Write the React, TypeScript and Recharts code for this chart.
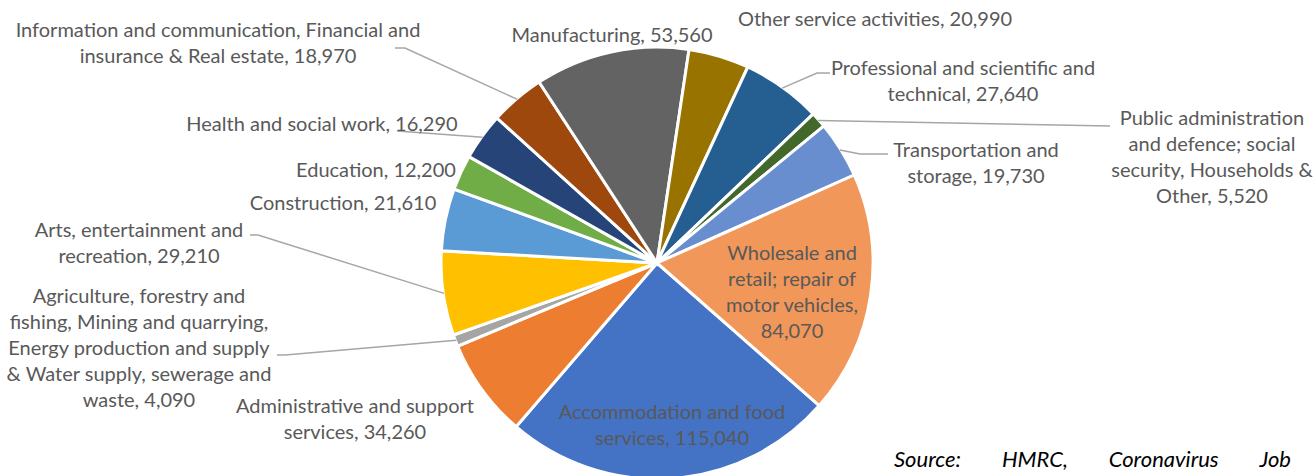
import { PieChart, Pie, Cell } from "recharts";

const categories = [
  "Accommodation and food services",
  "Administrative and support services",
  "Agriculture, forestry and fishing, Mining and quarrying, Energy production and supply & Water supply, sewerage and waste",
  "Arts, entertainment and recreation",
  "Construction",
  "Education",
  "Health and social work",
  "Information and communication, Financial and insurance & Real estate",
  "Manufacturing",
  "Other service activities",
  "Professional and scientific and technical",
  "Public administration and defence; social security, Households & Other",
  "Transportation and storage",
  "Wholesale and retail; repair of motor vehicles",
];

const jobs = [115040, 34260, 4090, 29210, 21610, 12200, 16290, 18970, 53560, 20990, 27640, 5520, 19730, 84070];

const colors = [
  "#4472C4", "#ED7D31", "#A5A5A5", "#FFC000", "#5B9BD5", "#70AD47", "#264478",
  "#9E480E", "#636363", "#997300", "#255E91", "#43682B", "#698ED0", "#F1975A",
];

const sourceWords = ["Source:", "HMRC,", "Coronavirus", "Job"];

// label placement: centre x, first baseline, words per line, leader points from the label side
type Place = { x: number; y: number; words: number[]; leader?: number[][] };
const places: Place[] = [
  { x: 672, y: 419, words: [3, 2] },
  { x: 355, y: 413, words: [3, 2] },
  { x: 139, y: 303, words: [3, 4, 4, 5, 2], leader: [[277, 355], [285, 355]] },
  { x: 139, y: 237, words: [3, 2], leader: [[250, 235], [258, 235]] },
  { x: 343, y: 210, words: [2] },
  { x: 376, y: 177, words: [2] },
  { x: 322, y: 131, words: [5], leader: [[397, 131]] },
  { x: 218, y: 37, words: [5, 5], leader: [[395, 48], [405, 48]] },
  { x: 612, y: 42, words: [2] },
  { x: 875, y: 26, words: [4] },
  { x: 963, y: 75, words: [4, 2], leader: [[830, 73], [817, 73]] },
  { x: 1212, y: 125, words: [2, 3, 3, 2], leader: [[1110, 126]] },
  { x: 976, y: 157, words: [2, 2], leader: [[888, 154], [860, 154]] },
  { x: 792, y: 260, words: [2, 3, 2, 1] },
];

const data = categories.map((name, i) => ({ name, value: jobs[i] }));

const RAD = Math.PI / 180;
const LINE_H = 26;

function renderLabel(props: any) {
  const { cx, cy, midAngle, outerRadius, index, value } = props;
  const p = places[index];
  const words = `${categories[index]}, ${Number(value).toLocaleString("en-GB")}`.split(" ");
  const lines: string[] = [];
  let k = 0;
  for (const n of p.words) {
    lines.push(words.slice(k, k + n).join(" "));
    k += n;
  }
  let leader = null;
  if (p.leader) {
    const ax = cx + (outerRadius - 1) * Math.cos(-midAngle * RAD);
    const ay = cy + (outerRadius - 1) * Math.sin(-midAngle * RAD);
    const pts = [...p.leader, [ax, ay]].map((q) => q.join(",")).join(" ");
    leader = <polyline points={pts} fill="none" stroke="#A6A6A6" strokeWidth={1.5} />;
  }
  return (
    <g key={`lbl-${index}`}>
      {leader}
      <text x={p.x} y={p.y} textAnchor="middle" fill="#595959" fontSize={20} fontFamily="Lato, 'Open Sans', sans-serif">
        {lines.map((l, j) => (
          <tspan key={j} x={p.x} y={p.y + j * LINE_H}>{l}</tspan>
        ))}
      </text>
    </g>
  );
}

export default function App() {
  return (
    <div style={{ position: "fixed", left: 0, top: 0, width: 1315, height: 476, background: "#fff", overflow: "hidden" }}>
      <PieChart width={1315} height={476} margin={{ top: 0, right: 0, bottom: 0, left: 0 }}>
        <Pie
          data={data}
          dataKey="value"
          nameKey="name"
          cx={657}
          cy={263}
          outerRadius={216}
          startAngle={-41.3}
          endAngle={-401.3}
          stroke="#fff"
          strokeWidth={3}
          label={renderLabel}
          labelLine={false}
          isAnimationActive={false}
        >
          {data.map((d, i) => (
            <Cell key={d.name} fill={colors[i]} />
          ))}
        </Pie>
      </PieChart>
      <div
        style={{
          position: "absolute",
          left: 894,
          top: 446,
          width: 397,
          display: "flex",
          justifyContent: "space-between",
          fontFamily: "Lato, 'Open Sans', sans-serif",
          fontStyle: "italic",
          fontSize: 22,
          color: "#000",
          lineHeight: "26px",
        }}
      >
        {sourceWords.map((w) => (
          <span key={w}>{w}</span>
        ))}
      </div>
    </div>
  );
}
